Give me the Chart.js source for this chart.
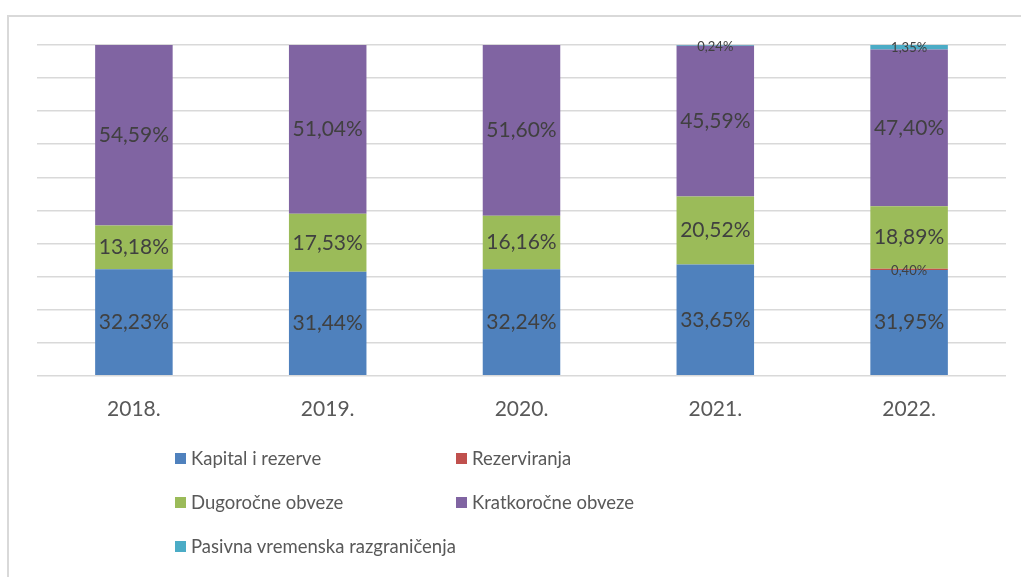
<!DOCTYPE html>
<html>
<head>
<meta charset="utf-8">
<script src="https://cdn.jsdelivr.net/npm/chart.js@4/dist/chart.umd.min.js"></script>
<style>
    body { margin: 0; width: 1021px; height: 577px; overflow: hidden; background: #fff; font-family: Lato, sans-serif; }
    #frame { position: absolute; left: 7px; top: 15px; width: 1100px; height: 700px; border-left: 2px solid #d9d9d9; border-top: 2px solid #d9d9d9; }
    #chartBox { position: absolute; left: 0; top: 0; }
    #legend { position: absolute; left: 175px; top: 446px; display: grid; grid-template-columns: 281px 300px; row-gap: 20px; }
    .item { display: flex; align-items: center; height: 24px; font-size: 18.5px; color: #595959; white-space: nowrap; }
    .box { flex: 0 0 auto; width: 11px; height: 11px; margin-right: 5px; }
</style>
</head>
<body>
<div id="frame"></div>
<div id="chartBox"><canvas id="barChart" width="1021" height="462"></canvas></div>
<div id="legend"></div>
<script>
// Data
const categories = ["2018.", "2019.", "2020.", "2021.", "2022."];
const kapital = [32.23, 31.44, 32.24, 33.65, 31.95];
const rezerviranja = [0, 0, 0, 0, 0.4];
const dugorocne = [13.18, 17.53, 16.16, 20.52, 18.89];
const kratkorocne = [54.59, 51.04, 51.6, 45.59, 47.4];
const pasivna = [0, 0, 0, 0.24, 1.35];

// Labels inside the bars
const barLabels = {
    id: "barLabels",
    afterDatasetsDraw(chart) {
        const ctx = chart.ctx;
        ctx.save();
        ctx.textAlign = "center";
        ctx.textBaseline = "middle";
        ctx.fillStyle = "#404040";
        chart.data.datasets.forEach((ds, i) => {
            const meta = chart.getDatasetMeta(i);
            meta.data.forEach((bar, j) => {
                const v = ds.data[j];
                if (!v) return;
                const small = v < 2;
                ctx.font = (small ? "13px" : "21px") + " Lato";
                const y = (bar.y + bar.base) / 2 + (small ? 1 : 0);
                ctx.fillText(v.toFixed(2).replace(".", ",") + "%", bar.x, y);
            });
        });
        ctx.restore();
    },
};

const chart = new Chart(document.getElementById("barChart"), {
    type: "bar",
    data: {
        labels: categories,
        datasets: [
            { label: "Kapital i rezerve", data: kapital, backgroundColor: "#4f81bd" },
            { label: "Rezerviranja", data: rezerviranja, backgroundColor: "#c0504d" },
            { label: "Dugoročne obveze", data: dugorocne, backgroundColor: "#9bbb59" },
            { label: "Kratkoročne obveze", data: kratkorocne, backgroundColor: "#8064a2" },
            { label: "Pasivna vremenska razgraničenja", data: pasivna, backgroundColor: "#4bacc6" },
        ],
    },
    options: {
        responsive: false,
        animation: false,
        barPercentage: 0.4,
        categoryPercentage: 1,
        layout: { padding: { left: 37, right: 15, top: 45, bottom: 19 } },
        scales: {
            x: {
                stacked: true,
                grid: { display: false, drawTicks: false },
                border: { display: false },
                ticks: { color: "#595959", font: { family: "Lato", size: 21 }, padding: 21 },
            },
            y: {
                stacked: true,
                min: 0,
                max: 100,
                ticks: { display: false, stepSize: 10 },
                grid: { color: "#d9d9d9", lineWidth: 1.5, drawTicks: false },
                border: { display: false },
            },
        },
        plugins: {
            legend: { display: false },
            tooltip: { enabled: false },
        },
    },
    plugins: [barLabels],
});

// Legend in two columns
const legend = document.getElementById("legend");
chart.data.datasets.forEach((ds) => {
    const item = document.createElement("div");
    item.className = "item";
    item.innerHTML = '<span class="box" style="background:' + ds.backgroundColor + '"></span>' + ds.label;
    legend.appendChild(item);
});
</script>
</body>
</html>
